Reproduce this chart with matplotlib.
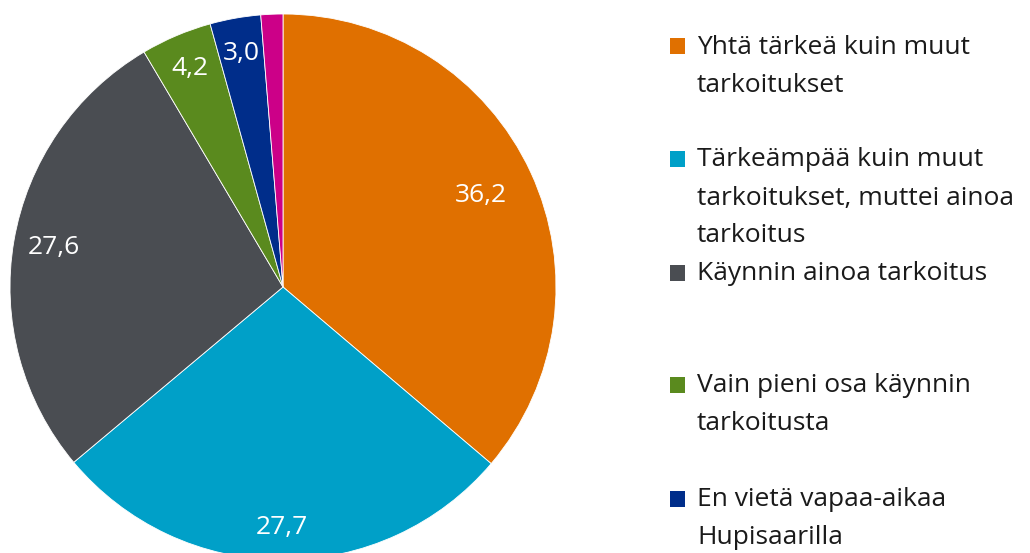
import numpy as np
import matplotlib
matplotlib.use("Agg")
import matplotlib.pyplot as plt
from matplotlib.patches import Rectangle

plt.rcParams['font.family'] = ['Open Sans', 'DejaVu Sans']

# data
values = [36.2, 27.7, 27.6, 4.2, 3.0, 1.3]
value_labels = ["36,2", "27,7", "27,6", "4,2", "3,0", None]
colors = ["#E07000", "#00A0C8", "#4A4D52", "#5A8A1E", "#002D8A", "#CC0088"]
legend_lines = [
    ["Yhtä tärkeä kuin muut", "tarkoitukset"],
    ["Tärkeämpää kuin muut", "tarkoitukset, muttei ainoa", "tarkoitus"],
    ["Käynnin ainoa tarkoitus"],
    ["Vain pieni osa käynnin", "tarkoitusta"],
    ["En vietä vapaa-aikaa", "Hupisaarilla"],
]
label_dist = [0.80, 0.88, 0.85, 0.87, 0.87, 0.87]

W, H = 1030, 553
fig = plt.figure(figsize=(W / 100, H / 100), dpi=100)
ax = fig.add_axes([0, 0, 1, 1])

cx, cy, R = 283, H - 287, 273
wedges, _ = ax.pie(values, colors=colors, startangle=90, counterclock=False,
                   radius=R, center=(cx, cy), frame=True,
                   wedgeprops=dict(edgecolor='white', linewidth=0.6))
ax.set_xlim(0, W)
ax.set_ylim(0, H)
ax.set_aspect('equal')
ax.axis('off')

for w, lab, d in zip(wedges, value_labels, label_dist):
    if lab is None:
        continue
    ang = np.deg2rad((w.theta1 + w.theta2) / 2)
    ax.text(cx + d * R * np.cos(ang), cy + d * R * np.sin(ang), lab,
            color='white', fontsize=19, ha='center', va='center')

# legend drawn by hand
starts = [47, 160, 274, 386, 500]
step = 38
for i, lines in enumerate(legend_lines):
    y0 = H - starts[i]
    ax.add_patch(Rectangle((670, y0 - 7), 15, 16, color=colors[i], lw=0))
    for k, line in enumerate(lines):
        ax.text(697, y0 - k * step, line, fontsize=19, color='#1a1a1a',
                ha='left', va='center')

fig.savefig("out.png", dpi=100)
